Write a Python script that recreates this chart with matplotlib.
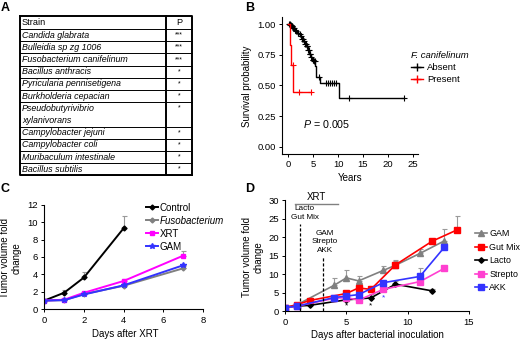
import numpy as np
import matplotlib
matplotlib.use("Agg")
import matplotlib.pyplot as plt

plt.rcParams['font.family'] = ['Liberation Sans', 'DejaVu Sans']
plt.rcParams['font.size'] = 7
plt.rcParams['mathtext.fontset'] = 'custom'
plt.rcParams['mathtext.rm'] = 'Liberation Sans'
plt.rcParams['mathtext.it'] = 'Liberation Sans:italic'

W, H = 520, 342

def fx(x):
    return x / W

def fy(y):
    return 1 - y / H

# ---- panel A data
strains = ["Candida glabrata", "Bulleidia sp zg 1006", "Fusobacterium canifelinum",
           "Bacillus anthracis", "Pyricularia pennisetigena", "Burkholderia cepacian",
           "Pseudobutyrivibrio\nxylanivorans", "Campylobacter jejuni", "Campylobacter coli",
           "Muribaculum intestinale", "Bacillus subtilis"]
p_marks = ["***", "***", "***", "*", "*", "*", "*", "*", "*", "*", "*"]

# ---- panel B data (Kaplan-Meier)
absent_t = [0, 0.3, 0.6, 0.9, 1.2, 1.5, 1.8, 2.1, 2.4, 2.7, 3.0, 3.3, 3.6, 3.9,
            4.2, 4.5, 4.8, 5.1, 5.4, 5.6, 6.4, 10.2]
absent_s = [1.0, 0.99, 0.98, 0.97, 0.955, 0.94, 0.93, 0.92, 0.905, 0.88, 0.86, 0.84,
            0.82, 0.79, 0.76, 0.73, 0.71, 0.70, 0.66, 0.57, 0.52, 0.40]
absent_end = 23.3
absent_cens = [0.1, 0.25, 0.4, 0.5, 0.7, 0.8, 1.0, 1.1, 1.35, 1.6, 1.9, 2.0, 2.3,
               2.5, 2.8, 2.9, 3.1, 3.4, 3.5, 3.7, 3.8, 4.0, 4.1, 4.3, 4.4, 4.6,
               4.9, 5.0, 5.2, 5.3, 6.2, 7.6, 8.0, 8.4, 8.8, 9.2, 9.6, 12.2, 23.3]
present_t = [0, 0.4, 0.5, 1.0]
present_s = [1.0, 0.833, 0.667, 0.444]
present_end = 4.5
present_cens = [0.9, 2.2, 4.5]

# ---- panel C data
c_days = [0, 1, 2, 4, 7]
control_days = [0, 1, 2, 4]
control = [1.0, 1.9, 3.65, 9.3]
control_err = [0, 0.3, 0.65, 1.45]
fuso = [1.0, 1.05, 1.75, 2.7, 4.7]
fuso_err = [0, 0.05, 0.1, 0.15, 0.25]
xrt = [1.0, 1.1, 1.9, 3.25, 6.15]
xrt_err = [0, 0.05, 0.1, 0.25, 0.5]
gam_c = [1.0, 1.05, 1.7, 2.75, 5.05]
gam_c_err = [0, 0.05, 0.1, 0.15, 0.2]

# ---- panel D data
gam_days = [0, 1, 4, 5, 6, 8, 9, 11, 13]
gam = [1.0, 1.8, 7.0, 9.0, 8.2, 11.0, 12.4, 15.6, 19.0]
gam_err = [0, 0.3, 2.0, 2.0, 1.4, 1.2, 1.3, 1.3, 3.3]
gut_days = [0, 1, 2, 5, 6, 7, 9, 12, 14]
gut = [1.0, 1.8, 2.9, 4.8, 6.3, 5.9, 12.5, 18.9, 21.9]
gut_err = [0, 0.3, 0.4, 0.5, 0.6, 1.0, 1.0, 0.5, 3.7]
lacto_days = [0, 1, 2, 5, 7, 9, 12]
lacto = [1.0, 1.4, 1.6, 3.1, 3.6, 7.3, 5.5]
lacto_err = [0, 0, 0.2, 0.4, 1.0, 0.9, 0.4]
strep_days = [0, 1, 4, 5, 6, 8, 11, 13]
strep = [1.0, 1.4, 3.5, 3.7, 3.0, 5.9, 8.0, 11.6]
strep_err = [0, 0.2, 0.4, 0.5, 0.5, 0.7, 0.5, 0.6]
akk_days = [0, 1, 4, 5, 6, 8, 11, 13]
akk = [1.0, 1.4, 3.7, 4.1, 4.5, 7.7, 9.4, 17.3]
akk_err = [0, 0.3, 0.5, 0.6, 0.7, 0.8, 2.3, 0.8]
sig_black_days = [5, 7]
sig_black_vals = [1.4, 1.4]
sig_blue_days = [8]
sig_blue_vals = [3.7]

fig = plt.figure(figsize=(5.2, 3.42), dpi=100)

# panel letters
for lab, x, y in [("A", 5, 8), ("B", 250, 8), ("C", 5, 189), ("D", 250, 189)]:
    fig.text(fx(x), fy(y), lab, fontsize=9, fontweight='bold', ha='center', va='center')

# ================= A: table
axA = fig.add_axes([0, 0, 1, 1])
axA.set_xlim(0, W)
axA.set_ylim(H, 0)
axA.axis('off')
left, right, sep = 19.5, 192, 166
top = 15.5
row_h = 12.2
y = top + 13.5
axA.text(22, (top + y) / 2, "Strain", fontsize=6.6, va='center', ha='left')
axA.text((sep + right) / 2, (top + y) / 2, "P", fontsize=6.6, va='center', ha='center')
axA.plot([left, right], [y, y], color='k', lw=0.7)
for name, pm in zip(strains, p_marks):
    lines = name.split("\n")
    for i, ln in enumerate(lines):
        axA.text(22, y + row_h * (i + 0.5), ln, fontsize=6.4, style='italic',
                 va='center', ha='left')
    axA.text((sep + right) / 2, y + row_h * 0.5, pm, fontsize=5, va='center', ha='center')
    y += row_h * len(lines)
    axA.plot([left, right], [y, y], color='k', lw=0.7)
bottom = y
axA.plot([left, right, right, left, left], [top, top, bottom, bottom, top], color='k', lw=1.4)
axA.plot([sep, sep], [top, bottom], color='k', lw=1.4)

# ================= B: survival
axB = fig.add_axes([fx(282), fy(154), fx(418) - fx(282), fy(17) - fy(154)])
axB.set_facecolor('none')

def km(ax, t, s, t_end, cens, color, label):
    tt = np.append(t, t_end)
    ss = np.append(s, s[-1])
    ax.step(tt, ss, where='post', color=color, lw=1.0)
    idx = np.searchsorted(t, cens, side='right') - 1
    ax.plot(cens, np.array(s)[idx], linestyle='none', marker='+', color=color,
            ms=4.5, mew=0.8)
    ax.plot([], [], color=color, lw=1.0, marker='+', ms=6, mew=1.0, label=label)

km(axB, absent_t, absent_s, absent_end, absent_cens, 'black', 'Absent')
km(axB, present_t, present_s, present_end, present_cens, '#ff0000', 'Present')
axB.set_xlim(-1.27, 26.05)
axB.set_ylim(-0.057, 1.057)
axB.set_xticks([0, 5, 10, 15, 20, 25])
axB.set_yticks([0, 0.25, 0.5, 0.75, 1.0])
axB.set_yticklabels(["0.00", "0.25", "0.50", "0.75", "1.00"])
for sp in ['top', 'right']:
    axB.spines[sp].set_visible(False)
axB.tick_params(direction='out', length=2.5, width=0.7, labelsize=6.8, pad=2)
axB.text(3.0, 0.19, "$\\it{P}$ = 0.005", fontsize=7.7, va='center', ha='left')
leg = axB.legend(loc='upper left', bbox_to_anchor=(fx(406), fy(46)),
                 bbox_transform=fig.transFigure, frameon=False, fontsize=6.8,
                 title="F. canifelinum", title_fontproperties={'style': 'italic', 'size': 6.8},
                 handlelength=1.3, handletextpad=0.4, labelspacing=0.35, borderpad=0,
                 alignment='left')
fig.text(fx(350), fy(178), "Years", fontsize=7, ha='center', va='center')
fig.text(fx(247), fy(86), "Survival probability", fontsize=7, rotation=90,
         ha='center', va='center')

# ================= C
axC = fig.add_axes([fx(44.3), fy(309.3), fx(203) - fx(44.3), fy(204.7) - fy(309.3)])
axC.set_facecolor('none')

def series(ax, x, yv, err, color, marker, ms, label, lw=1.4):
    ax.errorbar(x, yv, yerr=[np.zeros(len(err)), err], fmt='none', ecolor='#9a9a9a',
                elinewidth=0.8, capsize=1.8, capthick=0.8)
    ax.plot(x, yv, color=color, marker=marker, ms=ms, lw=lw, label=label,
            mec=color, mfc=color)

series(axC, control_days, control, control_err, 'black', 'D', 2.5, 'Control')
series(axC, c_days, fuso, fuso_err, '#808080', 'D', 2.5, 'Fusobacterium')
series(axC, c_days, xrt, xrt_err, '#ff00ff', 's', 2.5, 'XRT')
series(axC, c_days, gam_c, gam_c_err, '#3333ff', '*', 4, 'GAM')
axC.set_xlim(0, 8)
axC.set_ylim(0, 12)
axC.set_xticks([0, 2, 4, 6, 8])
axC.set_yticks(range(0, 13, 2))
for sp in ['top', 'right']:
    axC.spines[sp].set_visible(False)
axC.tick_params(direction='out', length=2.5, width=0.7, labelsize=6.8, pad=2)
legC = axC.legend(loc='upper left', bbox_to_anchor=(fx(141), fy(198)),
                  bbox_transform=fig.transFigure, frameon=False, fontsize=7,
                  handlelength=1.2, handletextpad=0.2, labelspacing=0.3, borderpad=0)
legC.get_texts()[1].set_style('italic')
fig.text(fx(125), fy(334), "Days after XRT", fontsize=7, ha='center', va='center')
fig.text(fx(11), fy(258), "Tumor volume fold\nchange", fontsize=7, rotation=90,
         ha='center', va='center', linespacing=1.25)

# ================= D
axD = fig.add_axes([fx(285), fy(311.3), fx(469) - fx(285), fy(200) - fy(311.3)])
axD.set_facecolor('none')
series(axD, gam_days, gam, gam_err, '#808080', '^', 4, 'GAM', lw=1.2)
series(axD, gut_days, gut, gut_err, '#ff0000', 's', 4, 'Gut Mix', lw=1.2)
series(axD, lacto_days, lacto, lacto_err, 'black', 'D', 2.8, 'Lacto', lw=1.2)
series(axD, strep_days, strep, strep_err, '#ff40d0', 's', 4, 'Strepto', lw=1.2)
series(axD, akk_days, akk, akk_err, '#3333ff', 's', 4, 'AKK', lw=1.2)
for d, v in zip(sig_black_days, sig_black_vals):
    axD.text(d, v, "*", fontsize=6, color='black', ha='center', va='center')
for d, v in zip(sig_blue_days, sig_blue_vals):
    axD.text(d, v, "*", fontsize=6, color='#3333ff', ha='center', va='center')
axD.plot([0.8, 4.35], [29.0, 29.0], color='#808080', lw=1.0, clip_on=False)
axD.text(2.55, 30.9, "XRT", fontsize=7, ha='center', va='center')
axD.plot([1.2, 1.2], [0, 23.5], color='black', lw=0.9, ls=(0, (2.5, 1.5)))
axD.plot([3.1, 3.1], [0, 15.0], color='black', lw=0.9, ls=(0, (2.5, 1.5)))
axD.text(1.6, 26.4, "Lacto\nGut Mix", fontsize=5.9, ha='center', va='center', linespacing=1.35)
axD.text(3.25, 18.7, "GAM\nStrepto\nAKK", fontsize=5.9, ha='center', va='center', linespacing=1.35)
axD.set_xlim(0, 15)
axD.set_ylim(0, 30)
axD.set_xticks([0, 5, 10, 15])
axD.set_yticks(range(0, 31, 5))
for sp in ['top', 'right']:
    axD.spines[sp].set_visible(False)
axD.tick_params(direction='out', length=2.5, width=0.7, labelsize=6.8, pad=2)
axD.legend(loc='upper left', bbox_to_anchor=(fx(471), fy(225)),
           bbox_transform=fig.transFigure, frameon=False, fontsize=6.4,
           handlelength=1.35, handletextpad=0.2, labelspacing=0.5, borderpad=0)
fig.text(fx(377), fy(335), "Days after bacterial inoculation", fontsize=7,
         ha='center', va='center')
fig.text(fx(253), fy(257), "Tumor volume fold\nchange", fontsize=7, rotation=90,
         ha='center', va='center', linespacing=1.25)

fig.savefig("out.png", dpi=100)
